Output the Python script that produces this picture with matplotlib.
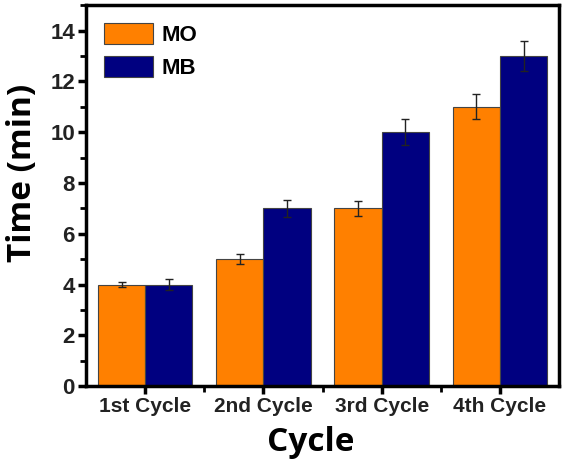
import numpy as np
import matplotlib
matplotlib.use("Agg")
from matplotlib import pyplot as plt
from matplotlib.ticker import MultipleLocator, FixedLocator

cycles = ['1st Cycle', '2nd Cycle', '3rd Cycle', '4th Cycle']
mo_time = [4, 5, 7, 11]
mo_err = [0.1, 0.2, 0.3, 0.5]
mb_time = [4, 7, 10, 13]
mb_err = [0.2, 0.33, 0.5, 0.6]

plt.rcParams['font.family'] = ['Liberation Sans', 'DejaVu Sans']

fig = plt.figure(figsize=(5.66, 4.68), dpi=100)
ax = fig.add_axes([0.152, 0.175, 0.836, 0.814])

x = np.arange(len(cycles))
w = 0.4
err_kw = dict(elinewidth=1, capthick=1, ecolor='#222222')
ax.bar(x - w / 2, mo_time, w, yerr=mo_err, capsize=3, color='#FF8000',
       edgecolor='#444444', linewidth=0.8, error_kw=err_kw, label='MO')
ax.bar(x + w / 2, mb_time, w, yerr=mb_err, capsize=3, color='#000080',
       edgecolor='#444444', linewidth=0.8, error_kw=err_kw, label='MB')

ax.set_xlim(-0.5, 3.5)
ax.set_ylim(0, 15)
ax.set_xticks(x)
ax.set_xticklabels(cycles, fontsize=15, fontweight='bold', color='#222222')
ax.xaxis.set_minor_locator(FixedLocator([0.5, 1.5, 2.5]))
ax.yaxis.set_major_locator(MultipleLocator(2))
ax.yaxis.set_minor_locator(MultipleLocator(1))
ax.set_ylim(0, 15)
for lab in ax.get_yticklabels():
    lab.set_fontsize(16)
    lab.set_fontweight('bold')
    lab.set_color('#222222')

ax.tick_params(which='major', direction='out', length=6, width=2.5, pad=2)
ax.tick_params(which='minor', direction='out', length=4, width=2)
for s in ax.spines.values():
    s.set_linewidth(2.5)

ax.set_xlabel('Cycle', fontsize=24, fontweight='bold', family=['Open Sans', 'DejaVu Sans'])
ax.set_ylabel('Time (min)', fontsize=24, fontweight='bold', family=['Open Sans', 'DejaVu Sans'])
ax.xaxis.set_label_coords(0.474, -0.105)
ax.yaxis.set_label_coords(-0.1, 0.56)

leg = ax.legend(loc='upper left', frameon=False, prop={'size': 16, 'weight': 'bold'},
                handlelength=2.2, handleheight=1.1, handletextpad=0.4,
                borderaxespad=0.4, labelspacing=0.45)

plt.savefig('out.png', dpi=100)
